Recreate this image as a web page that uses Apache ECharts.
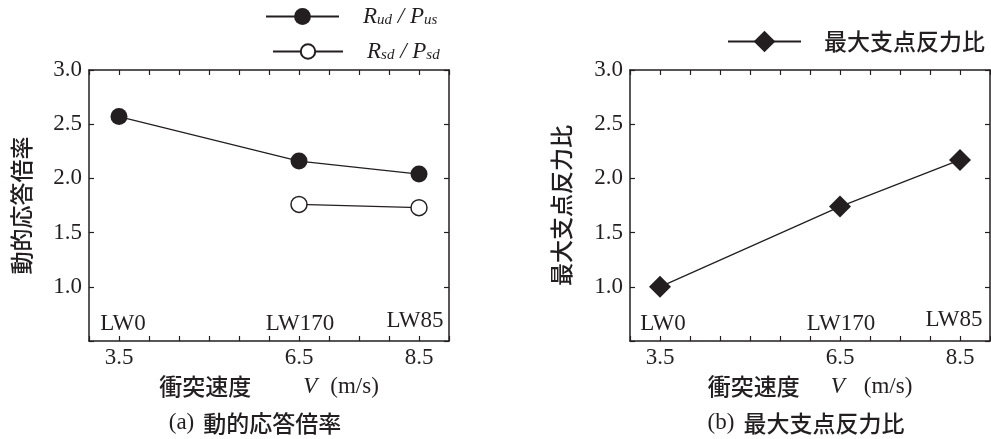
<!DOCTYPE html>
<html><head><meta charset="utf-8">
<script src="https://cdn.jsdelivr.net/npm/echarts@6/dist/echarts.min.js"></script>
<style>html,body{margin:0;padding:0;background:#fff}#c{width:991px;height:439px}</style>
</head><body><div id="c"></div>
<script>
// ---- data ----
const speeds = [3.5, 6.5, 8.5];
const specimenLabels = ['LW0', 'LW170', 'LW85'];
const rudPus = [2.57, 2.16, 2.04];
const rsdSpeeds = [6.5, 8.5];
const rsdPsd = [1.76, 1.73];
const maxReactionRatio = [1.00, 1.74, 2.17];
const xTickLabels = ['3.5', '6.5', '8.5'];
const yTickLabels = ['1.0', '1.5', '2.0', '2.5', '3.0'];
const seriesNames = ['Rud / Pus', 'Rsd / Psd', '最大支点反力比'];

// ---- styles ----
const INK = '#231f20';
const SERIF = '"Liberation Serif", "Times New Roman", serif';
const CJK = '"Noto Sans CJK JP", "Noto Sans CJK SC", sans-serif';
const CJKW = 500;
const SF = 23;

function xAxes(gi, g1, g2) {
  return [
    { type: 'value', gridIndex: gi, position: 'bottom', min: 3, max: 9, interval: 0.5,
      axisLine: { show: true, onZero: false, lineStyle: { color: INK, width: 1.5 } },
      axisTick: { show: true, inside: true, length: 5, lineStyle: { color: INK, width: 1.2 } },
      splitLine: { show: false },
      axisLabel: { show: true, margin: 5, color: INK, fontFamily: SERIF, fontSize: SF,
        showMinLabel: true, showMaxLabel: true,
        formatter: v => xTickLabels.includes(v.toFixed(1)) ? v.toFixed(1) : '' },
      name: '{c|衝突速度}{g1| }{v|V}{g2| }{u|(m/s)}',
      nameLocation: 'middle', nameGap: 34,
      nameTextStyle: { color: INK, rich: {
        c: { fontFamily: CJK, fontSize: 23, fontWeight: CJKW, color: INK },
        g1: { width: g1 }, g2: { width: g2 },
        v: { fontFamily: SERIF, fontStyle: 'italic', fontSize: SF, color: INK },
        u: { fontFamily: SERIF, fontSize: SF, color: INK } } } },
    { type: 'value', gridIndex: gi, position: 'top', min: 3, max: 9, interval: 0.5,
      axisLine: { show: true, onZero: false, lineStyle: { color: INK, width: 1.5 } },
      axisTick: { show: true, inside: true, length: 5, lineStyle: { color: INK, width: 1.2 } },
      splitLine: { show: false }, axisLabel: { show: false } }
  ];
}
function yAxes(gi, name, gap) {
  return [
    { type: 'value', gridIndex: gi, position: 'left', min: 0.5, max: 3, interval: 0.5,
      axisLine: { show: true, onZero: false, lineStyle: { color: INK, width: 1.5 } },
      axisTick: { show: true, inside: true, length: 5, lineStyle: { color: INK, width: 1.2 } },
      splitLine: { show: false },
      axisLabel: { show: true, margin: 7, color: INK, fontFamily: SERIF, fontSize: SF,
        showMinLabel: true, showMaxLabel: true,
        formatter: v => yTickLabels.includes(v.toFixed(1)) ? v.toFixed(1) : '' },
      name: name, nameLocation: 'middle', nameRotate: 90, nameGap: gap,
      nameTextStyle: { fontFamily: CJK, fontSize: 23, fontWeight: CJKW, color: INK } },
    { type: 'value', gridIndex: gi, position: 'right', min: 0.5, max: 3, interval: 0.5,
      axisLine: { show: true, onZero: false, lineStyle: { color: INK, width: 1.5 } },
      axisTick: { show: true, inside: true, length: 5, lineStyle: { color: INK, width: 1.2 } },
      splitLine: { show: false }, axisLabel: { show: false } }
  ];
}
function lwSeries(xi, yi, nudges) {
  return { type: 'scatter', xAxisIndex: xi, yAxisIndex: yi, silent: true,
    symbolSize: 0, itemStyle: { color: 'rgba(0,0,0,0)', opacity: 1 }, z: 1,
    data: speeds.map((x, i) => ({ value: [x, 0.5], name: specimenLabels[i],
      label: { offset: nudges[i] } })),
    label: { show: true, position: 'top', distance: 6, formatter: p => p.name,
      fontFamily: SERIF, fontSize: SF, color: INK, opacity: 1 } };
}
const legRich = {
  sp: { width: 19 },
  r: { fontFamily: SERIF, fontStyle: 'italic', fontSize: SF, color: INK },
  s: { fontFamily: SERIF, fontStyle: 'italic', fontSize: 15, color: INK, verticalAlign: 'bottom' },
  sl: { fontFamily: SERIF, fontStyle: 'italic', fontSize: SF, color: INK }
};

const chart = echarts.init(document.getElementById('c'), null, { renderer: 'canvas' });
chart.setOption({
  animation: false,
  backgroundColor: '#fff',
  grid: [
    { left: 89, top: 70, width: 360, height: 271, outerBoundsMode: 'none', containLabel: false },
    { left: 630, top: 70, width: 360, height: 271, outerBoundsMode: 'none', containLabel: false }
  ],
  xAxis: [...xAxes(0, 52, 13), ...xAxes(1, 31, 19)],
  yAxis: [...yAxes(0, '動的応答倍率', 56), ...yAxes(1, '最大支点反力比', 57)],
  legend: [
    { data: [seriesNames[0]], left: 265, top: 5, padding: 0, itemWidth: 73, itemHeight: 21,
      selectedMode: false, formatter: () => '{sp| }{r|R}{s|ud}{sl| / }{r|P}{s|us}',
      textStyle: { rich: legRich } },
    { data: [seriesNames[1]], left: 272, top: 40, padding: 0, itemWidth: 70, itemHeight: 18,
      selectedMode: false, formatter: () => '{sp| }{r|R}{s|sd}{sl| / }{r|P}{s|sd}',
      textStyle: { rich: legRich } },
    { data: [seriesNames[2]], left: 727, top: 30, padding: 0, itemWidth: 73, itemHeight: 27,
      selectedMode: false, formatter: '{sp| }{c|{name}}',
      textStyle: { rich: { sp: { width: 18 }, c: { fontFamily: CJK, fontSize: 23, fontWeight: CJKW, color: INK } } } }
  ],
  graphic: [
    { type: 'text', x: 255, y: 423, silent: true,
      style: { text: '{a|(a)}{g| }{c|動的応答倍率}', align: 'center', verticalAlign: 'middle',
        rich: { a: { fontFamily: SERIF, fontSize: SF, fill: INK }, g: { width: 9 }, c: { fontFamily: CJK, fontSize: 23, fontWeight: CJKW, fill: INK } } } },
    { type: 'text', x: 806, y: 423, silent: true,
      style: { text: '{a|(b)}{g| }{c|最大支点反力比}', align: 'center', verticalAlign: 'middle',
        rich: { a: { fontFamily: SERIF, fontSize: SF, fill: INK }, g: { width: 9 }, c: { fontFamily: CJK, fontSize: 23, fontWeight: CJKW, fill: INK } } } }
  ],
  series: [
    { type: 'line', name: seriesNames[0], xAxisIndex: 0, yAxisIndex: 0, z: 3,
      data: speeds.map((x, i) => [x, rudPus[i]]),
      symbol: 'circle', symbolSize: 17,
      lineStyle: { color: INK, width: 1.3 }, itemStyle: { color: INK } },
    { type: 'line', name: seriesNames[1], xAxisIndex: 0, yAxisIndex: 0, z: 3,
      data: rsdSpeeds.map((x, i) => [x, rsdPsd[i]]),
      symbol: 'circle', symbolSize: 16,
      lineStyle: { color: INK, width: 1.3 }, itemStyle: { color: '#fff', borderColor: INK, borderWidth: 1.5 } },
    { type: 'line', name: seriesNames[2], xAxisIndex: 2, yAxisIndex: 2, z: 3,
      data: speeds.map((x, i) => [x, maxReactionRatio[i]]),
      symbol: 'diamond', symbolSize: 22,
      lineStyle: { color: INK, width: 1.3 }, itemStyle: { color: INK } },
    lwSeries(0, 0, [[4, 0], [1, 0], [-4, -3]]),
    lwSeries(2, 2, [[3, 0], [1, 0], [-6, -4]])
  ]
});
</script></body></html>
